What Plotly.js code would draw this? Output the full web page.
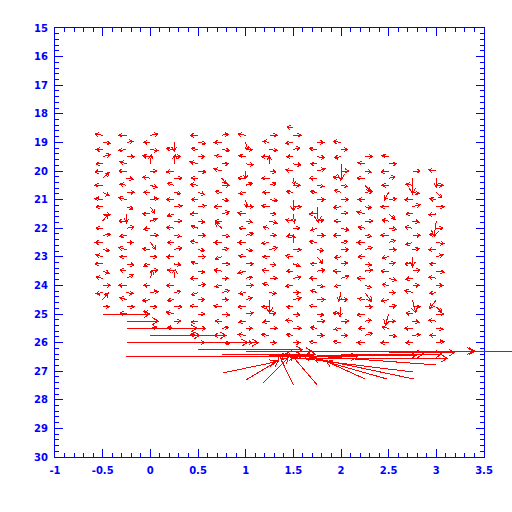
<!DOCTYPE html>
<html>
<head>
<meta charset="utf-8">
<script src="https://cdn.plot.ly/plotly-3.0.1.min.js"></script>
<style>
html,body{margin:0;padding:0;background:#fff;}
#chart{width:512px;height:512px;}
#chart .scatterlayer path, #chart .shapelayer path{shape-rendering:crispEdges;}
</style>
</head>
<body>
<div id="chart"></div>
<script>
// ---- axis ticks ----
const xTickVals = [-1, -0.5, 0, 0.5, 1, 1.5, 2, 2.5, 3, 3.5];
const xTickText = ["-1", "-0.5", "0", "0.5", "1", "1.5", "2", "2.5", "3", "3.5"];
const yTickVals = [15,16,17,18,19,20,21,22,23,24,25,26,27,28,29,30];
const yTickText = ["15","16","17","18","19","20","21","22","23","24","25","26","27","28","29","30"];

// ---- grid columns (x position, first row y); rows every 0.25 ----
const colX   = [-0.5, -0.25, 0, 0.25, 0.5, 0.75, 1.0, 1.25, 1.5, 1.75, 2.0, 2.25, 2.5, 2.75, 3.0];
const colTop = [18.75, 18.75, 18.75, 19.0, 18.75, 18.75, 18.75, 18.75, 18.5, 19.0, 19.0, 19.5, 19.5, 20.0, 20.0];
const rowStep = 0.25;

// ---- vector components per column (u eastward, v upward; speed units) ----
const u_m050 = [-7,7,-6,7,-6,-7,6,-7,6,-7,-6,7,5,-6,7,-7,6,-6,-7,6,-6,7,-6,5,6];
const v_m050 = [1,-1,0,2,0,-1,5,0,-3,1,0,-1,6,0,1,0,-1,2,0,-2,1,0,-1,6,0];
const u_m025 = [-7,6,-7,7,-6,-7,6,-6,7,-7,6,0,-7,7,-6,6,-7,-6,7,-6,6,-7,6,-6,7,-6];
const v_m025 = [0,1,-1,0,2,0,-1,1,0,2,-2,-8,0,1,-1,0,2,0,-1,1,3,0,-1,2,0,1];
const u_000 = [7,-6,7,-7,1,6,-7,6,-6,7,4,-7,6,-6,7,5,-7,6,-6,7,2,-6,7,-7,6,-6,7,6];
const v_000 = [1,0,-1,1,8,0,1,-2,0,1,-6,0,2,-1,0,-6,1,0,-2,1,7,0,1,-1,0,2,0,1];
const u_025 = [0,-7,6,1,-7,7,-6,6,-7,7,-6,7,-7,6,-6,7,-7,6,-6,1,-7,6,-6,7,-7,6,-6];
const v_025 = [-8,1,0,8,-1,0,2,-1,0,1,-2,0,1,-1,0,2,0,-1,1,8,0,1,-1,0,2,0,1];
const u_050 = [-7,7,-6,6,-7,7,-6,-7,6,-6,7,-7,6,-6,7,-7,6,7,-6,6,-7,7,-6,6,-7,6,-6,7,-7,6];
const v_050 = [0,-1,1,0,2,-1,0,1,-2,0,1,0,-1,2,0,1,-1,0,2,-1,0,1,-2,0,1,0,-1,0,1,0];
const u_075 = [6,-7,7,-6,6,-7,4,7,-6,6,-7,7,-6,-6,7,-7,6,-6,7,-7,6,-6,7,6,-7,7,-6,6,-7,7];
const v_075 = [1,0,-1,1,0,2,-5,0,1,-1,0,2,0,5,-1,0,1,-2,0,1,0,-1,2,0,1,-1,0,1,0,-1];
const u_100 = [-7,2,6,-6,7,0,-7,6,-6,1,7,-7,6,-6,7,-7,6,-6,7,-7,6,7,-6,6,-7,7,-6,6,-7,6];
const v_100 = [1,-7,0,1,-1,-7,0,2,-1,-7,0,1,-1,0,2,0,-1,1,0,-2,1,0,-1,2,0,1,-1,0,1,0];
const u_125 = [7,-6,7,-7,0,6,-7,6,-6,7,-7,6,7,-6,6,-7,7,-6,6,-7,7,-6,6,0,-7,6,-6,7,-7,6];
const v_125 = [0,1,-1,0,7,-1,0,2,0,-1,1,0,-2,1,0,-1,2,0,-1,1,0,2,-1,-12,0,1,-1,0,1,0];
const u_150 = [-6,7,-7,6,-6,7,-7,1,6,-6,0,7,1,-7,6,-6,0,7,-7,6,-6,7,-7,6,7,-6,6,-7,7,-6,6];
const v_150 = [1,0,-1,2,0,-1,1,-6,0,1,-10,0,-8,1,0,-1,7,0,1,-2,0,1,-1,0,2,0,-1,1,0,1,0];
const u_175 = [6,-7,7,-6,7,-7,6,-6,7,1,-7,6,-6,7,-7,6,5,-6,7,-7,6,-6,7,-7,6,7,-6,6,-7];
const v_175 = [0,1,-1,0,2,0,-1,1,0,-14,0,1,-2,0,1,-1,-6,0,1,0,-1,2,0,1,-1,0,1,0,1];
const u_200 = [-7,6,-6,0,7,-7,6,-6,7,-7,6,-6,7,-7,6,7,-6,6,-7,7,-6,-2,6,-1,-7,7,-6,6,-7];
const v_200 = [1,0,-1,-15,0,1,-1,2,0,-1,1,0,-2,0,1,0,-1,1,0,2,-1,-8,0,-9,1,0,-1,0,1];
const u_225 = [7,-6,6,-7,5,7,-6,6,-7,7,-6,6,-7,7,-6,6,7,-7,6,6,-6,7,-7,6,-6,7,-7];
const v_225 = [0,1,-1,0,-5,1,0,-1,2,0,1,-1,0,2,0,-1,1,0,-2,-8,1,0,-1,1,0,2,0];
const u_250 = [-6,7,-7,6,-6,-4,7,-7,6,-6,7,-7,6,7,-6,6,-7,7,-6,6,-7,7,-3,6,-6,7,-7];
const v_250 = [1,0,-1,1,0,-7,1,0,-5,1,-1,0,2,0,-1,1,0,-2,1,0,-1,1,-10,0,1,-1,0];
const u_275 = [7,0,-6,6,-7,7,-6,6,-7,7,-6,6,0,-7,7,-6,6,-7,3,7,-6,6,-7,7,-6];
const v_275 = [0,-14,1,-1,0,2,0,-1,1,0,-2,1,-9,0,1,-1,0,2,-12,0,1,-1,0,1,0];
const u_300 = [-7,0,6,5,-6,7,-7,-2,6,-6,7,-7,6,-6,7,-7,6,-6,-6,5,7,-7,6,-6,7];
const v_300 = [1,-8,0,-5,1,0,-1,-14,0,1,-1,0,2,0,-1,1,0,-1,-8,-5,0,1,-1,0,1];

// ---- strong flow near the southern rows ----
const longX = [-0.5,-0.25,-0.25,0,0.25,-0.25,0.75,0.5,-0.25,0.25,0.75,1.0,1.35,1.25,1.5,1.75,2.0,2.25,2.5,2.75,3.0];
const longY = [25.0,25.25,25.5,25.75,25.75,26.0,26.0,26.25,26.5,26.5,26.4,26.3,26.3,26.5,26.55,26.45,26.4,26.4,26.35,26.3,26.3];
const longU = [43,29,64,45,47,110,33,95,160,110,85,60,240,80,140,90,75,70,60,55,35];
const longV = [0,0,0,0,0,0,0,0,1,0,0,0,0,0,0,0,0,0,0,0,0];

const fanX = [0.76,1.0,1.18,1.5,1.75,2.25,2.48,2.76,2.76,3.0];
const fanY = [27.06,27.31,27.41,27.48,27.48,27.27,27.27,27.27,27.03,26.78];
const fanU = [48,30,23,-13,-24,-35,-67,-100,-123,-137];
const fanV = [10,18,23,27,28,16,19,21,15,10];

// ---- build ----
const uCols = [u_m050,u_m025,u_000,u_025,u_050,u_075,u_100,u_125,u_150,u_175,u_200,u_225,u_250,u_275,u_300];
const vCols = [v_m050,v_m025,v_000,v_025,v_050,v_075,v_100,v_125,v_150,v_175,v_200,v_225,v_250,v_275,v_300];

const W = 512, H = 512, M = {l:55, r:28, t:28, b:55};
const xRange = [-1, 3.5], yRange = [30, 15];
const plotW = W - M.l - M.r, plotH = H - M.t - M.b;
const pxX = plotW / (xRange[1] - xRange[0]);
const pxY = plotH / Math.abs(yRange[0] - yRange[1]);
const VEC_PX = 1.1;

const lx = [], ly = [], shapes = [];
const RED = '#ff0000';

function arrowParts(x0, y0, u, v) {
  const len = Math.hypot(u, v) * VEC_PX;
  if (len === 0) return null;
  const sx = u * VEC_PX, sy = -v * VEC_PX;
  const x1 = x0 + sx / pxX, y1 = y0 + sy / pxY;
  const dx = sx / len, dy = sy / len;
  const hl = Math.min(6, Math.max(3.5, 0.45 * len)), hw = hl * 0.6;
  const b1 = [x1 + (-dx*hl - dy*hw)/pxX, y1 + (-dy*hl + dx*hw)/pxY];
  const b2 = [x1 + (-dx*hl + dy*hw)/pxX, y1 + (-dy*hl - dx*hw)/pxY];
  return {x0, y0, x1, y1, b1, b2};
}
function addArrow(x0, y0, u, v) {
  const a = arrowParts(x0, y0, u, v);
  if (!a) return;
  if (a.x1 > xRange[1]) {
    const px = x => (x - xRange[0]) / (xRange[1] - xRange[0]);
    shapes.push({type:'line', xref:'paper', yref:'y', x0:px(a.x0), y0:a.y0, x1:px(a.x1), y1:a.y1,
                 line:{color:RED, width:1}, layer:'above'});
    return;
  }
  lx.push(a.x0, a.x1, null, a.b1[0], a.x1, a.b2[0], null);
  ly.push(a.y0, a.y1, null, a.b1[1], a.y1, a.b2[1], null);
}

colX.forEach((cx, c) => {
  const us = uCols[c], vs = vCols[c];
  for (let i = 0; i < us.length; i++) addArrow(cx, colTop[c] + i*rowStep, us[i], vs[i]);
});
for (let i = 0; i < longX.length; i++) addArrow(longX[i], longY[i], longU[i], longV[i]);
for (let i = 0; i < fanX.length; i++) addArrow(fanX[i], fanY[i], fanU[i], fanV[i]);

const BLUE = '#0000ff';
const tickFont = {family:'DejaVu Sans', size:10, color:BLUE, weight:'bold'};
const axisCommon = {
  showgrid:false, zeroline:false, showline:true, linecolor:BLUE, linewidth:1,
  mirror:'allticks', ticks:'inside', ticklen:8, tickwidth:1, tickcolor:BLUE,
  tickfont:tickFont, fixedrange:true
};

const layout = {
  width:W, height:H, margin:M, showlegend:false,
  paper_bgcolor:'#ffffff', plot_bgcolor:'#ffffff',
  xaxis: Object.assign({}, axisCommon, {
    range:xRange, tickmode:'array', tickvals:xTickVals, ticktext:xTickText, ticklabelstandoff:4,
    minor:{tickmode:'linear', tick0:-1, dtick:0.1, ticks:'inside', ticklen:4, tickwidth:1, tickcolor:BLUE, showgrid:false}
  }),
  yaxis: Object.assign({}, axisCommon, {
    range:yRange, tickmode:'array', tickvals:yTickVals, ticktext:yTickText, ticklabelstandoff:4,
    minor:{tickmode:'linear', tick0:15, dtick:0.2, ticks:'inside', ticklen:4, tickwidth:1, tickcolor:BLUE, showgrid:false}
  }),
  shapes: shapes
};

Plotly.newPlot('chart', [{
  type:'scatter', mode:'lines', x:lx, y:ly, connectgaps:false,
  line:{color:RED, width:1}, hoverinfo:'skip'
}], layout, {staticPlot:true, displayModeBar:false});
</script>
</body>
</html>
